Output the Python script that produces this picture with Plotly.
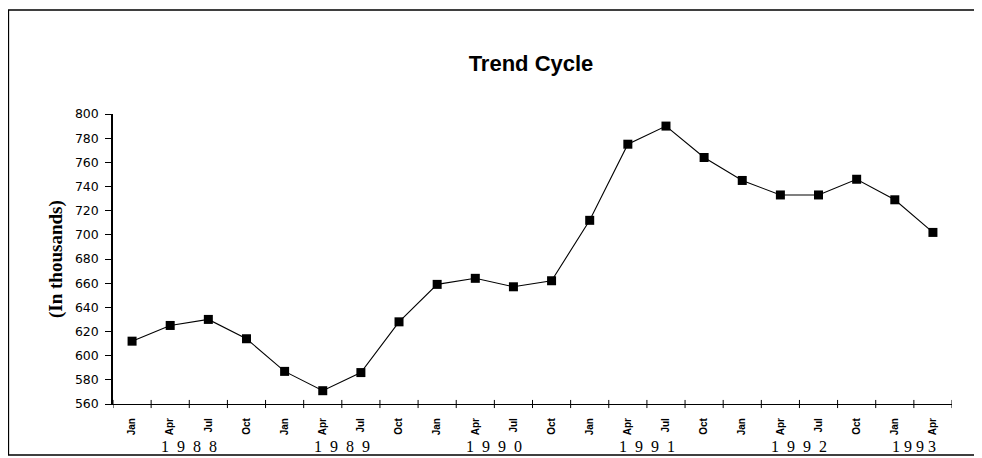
import plotly.graph_objects as go

# quarterly points, Jan 1988 .. Apr 1993
month_labels = ["Jan", "Apr", "Jul", "Oct"] * 5 + ["Jan", "Apr"]
trend_values = [612, 625, 630, 614, 587, 571, 586, 628,
                659, 664, 657, 662, 712, 775, 790, 764,
                745, 733, 733, 746, 729, 702]
years = ["1988", "1989", "1990", "1991", "1992", "1993"]
year_pos = [1.5, 5.5, 9.5, 13.5, 17.5, 20.5]

x_idx = list(range(len(trend_values)))

# page body has an 8px margin, so the figure is 8px smaller than the window
W, H = 974, 450
L, T, PW, PH = 105, 106, 839, 290

fig = go.Figure()
fig.add_trace(go.Scatter(
    x=x_idx, y=trend_values, mode="lines+markers",
    line=dict(color="black", width=1.1),
    marker=dict(symbol="square", size=9, color="black"),
    showlegend=False, hoverinfo="y"))

fig.update_layout(
    width=W, height=H, autosize=False,
    paper_bgcolor="white", plot_bgcolor="white",
    margin=dict(l=L, r=W - L - PW, t=T, b=H - T - PH, autoexpand=False),
    title=dict(text="<b>Trend Cycle</b>", x=(531 - 8) / W, xanchor="center",
               y=1 - (63 - 8) / H, yanchor="middle",
               font=dict(family="Liberation Sans, Arial", size=22, color="black")),
    font=dict(family="Liberation Sans, Arial", color="black"),
)

fig.update_xaxes(
    range=[-0.5, 21.5], tickmode="array", tickvals=x_idx,
    ticktext=[f"<b>{m}</b>" for m in month_labels],
    tickangle=-90, tickfont=dict(family="Liberation Sans, Arial", size=10, color="black"),
    ticklabelstandoff=9,
    showgrid=False, zeroline=False, showline=True, linecolor="black", linewidth=1.2,
    ticks="", fixedrange=True)

fig.update_yaxes(
    range=[560, 800], tickmode="array", tickvals=list(range(560, 801, 20)),
    tickfont=dict(family="DejaVu Sans", size=12.5, color="black"),
    ticklabelstandoff=4,
    showgrid=False, zeroline=False, showline=True, linecolor="black", linewidth=1.5,
    ticks="outside", ticklen=6, tickwidth=1, tickcolor="black", fixedrange=True)

# y axis title
fig.add_annotation(x=(56 - 8 - L) / PW, y=0.5, xref="paper", yref="paper",
                   text="<b>(In thousands)</b>", textangle=-90, showarrow=False,
                   xanchor="center", yanchor="middle",
                   font=dict(family="Liberation Serif, Times New Roman", size=19, color="black"))

# boundary ticks between quarters on the x axis
for k in range(len(trend_values) + 1):
    fig.add_shape(type="line", xref="x", yref="paper", x0=k - 0.5, x1=k - 0.5,
                  y0=-0.014, y1=0.014, line=dict(color="black", width=1))

# year labels under the month labels
for yr, pos in zip(years, year_pos):
    gap = " " if yr == "1993" else " \u00a0"
    fig.add_annotation(x=pos, y=-(446 - 8 - T - PH) / PH, xref="x", yref="paper",
                       text=gap.join(yr), showarrow=False, yanchor="middle",
                       font=dict(family="Liberation Serif, Times New Roman", size=16, color="black"))

# outer frame of the page
fig.add_shape(type="rect", xref="paper", yref="paper",
              x0=(0.5 - L) / PW, x1=(971 - L) / PW,
              y0=-(447 - T - PH) / PH, y1=1 + (T - 2) / PH,
              line=dict(color="black", width=1.3))

fig.write_html("out.html")
